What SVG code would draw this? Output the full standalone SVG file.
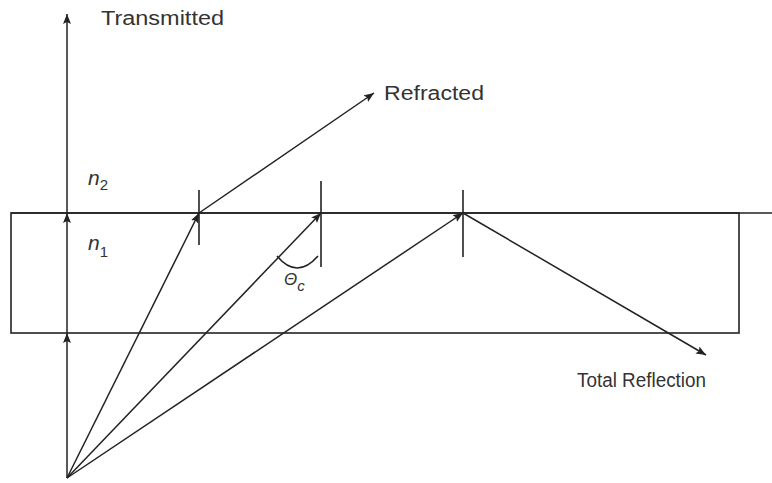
<svg xmlns="http://www.w3.org/2000/svg" width="772" height="483" viewBox="0 0 772 483">
  <style>
    .ln { stroke: #222; stroke-width: 1.6; fill: none; }
    .ar { stroke: #222; stroke-width: 1.5; fill: none; marker-end: url(#ah); }
    .lbl { font-family: "Liberation Sans", Arial, sans-serif; font-size: 20px; fill: #333; }
    .sym { font-family: "Liberation Sans", Arial, sans-serif; font-style: italic; fill: #333; }
  </style>
  <defs>
    <marker id="ah" markerUnits="userSpaceOnUse" markerWidth="12" markerHeight="10" refX="10" refY="4" orient="auto">
      <path d="M0,0 L10,4 L0,8 L2,4 z" fill="#222"/>
    </marker>
  </defs>
  <rect width="772" height="483" fill="#fff"/>

  <g id="medium">
    <rect x="11" y="213" width="728" height="120" class="ln"/>
    <line x1="11" y1="213" x2="772" y2="213" class="ln"/>
    <line x1="199" y1="190" x2="199" y2="245" class="ln"/>
    <line x1="321" y1="181" x2="321" y2="267" class="ln"/>
    <line x1="463" y1="190" x2="463" y2="257" class="ln"/>
  </g>

  <g id="connectors">
    <line x1="67" y1="478" x2="67" y2="333" class="ar"/>
    <line x1="67" y1="333" x2="67" y2="213" class="ar"/>
    <line x1="67" y1="213" x2="67" y2="14" class="ar"/>
    <line x1="67" y1="478" x2="199" y2="213" class="ar"/>
    <line x1="67" y1="478" x2="321" y2="213" class="ar"/>
    <line x1="67" y1="478" x2="463" y2="213" class="ar"/>
    <line x1="199" y1="213" x2="374" y2="93" class="ar"/>
    <line x1="463" y1="213" x2="706" y2="355" class="ar"/>
    <path d="M277,256 Q297,280 318,256" class="ln" stroke-width="1.3"/>
  </g>

  <g id="labels">
    <text class="lbl" x="101" y="25" textLength="123" lengthAdjust="spacingAndGlyphs">Transmitted</text>
    <text class="lbl" x="384" y="100" textLength="100" lengthAdjust="spacingAndGlyphs">Refracted</text>
    <text class="lbl" x="577" y="387" textLength="129" lengthAdjust="spacingAndGlyphs">Total Reflection</text>
    <text class="sym" x="88" y="185" font-size="21">n<tspan font-size="15" font-style="normal" dy="5">2</tspan></text>
    <text class="sym" x="88" y="250" font-size="21">n<tspan font-size="15" font-style="normal" dy="7">1</tspan></text>
    <text class="sym" x="284" y="285" font-size="17">Θ<tspan font-size="15" dy="6">c</tspan></text>
  </g>
</svg>
